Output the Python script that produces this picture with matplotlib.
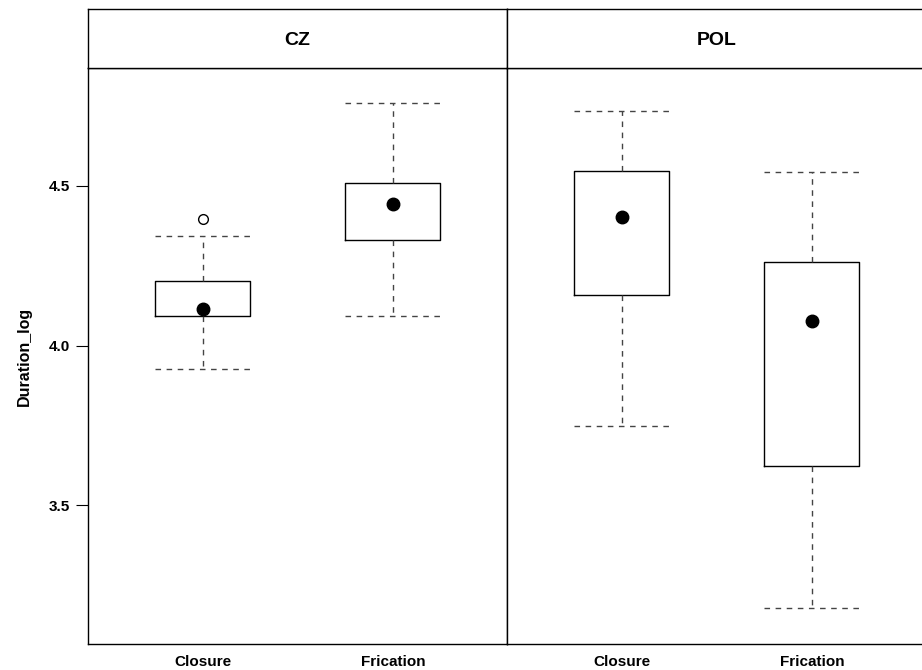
import matplotlib
matplotlib.use("Agg")
import matplotlib.pyplot as plt

plt.rcParams['font.family'] = ['Liberation Sans', 'DejaVu Sans']

panels = ["CZ", "POL"]
categories = ["Closure", "Frication"]
# per panel: [Closure, Frication]
whislo = {"CZ": [3.928, 4.094], "POL": [3.748, 3.178]}
q1 = {"CZ": [4.092, 4.330], "POL": [4.158, 3.623]}
med = {"CZ": [4.115, 4.442], "POL": [4.404, 4.076]}
q3 = {"CZ": [4.203, 4.508], "POL": [4.548, 4.261]}
whishi = {"CZ": [4.344, 4.759], "POL": [4.735, 4.542]}
fliers = {"CZ": [[4.396], []], "POL": [[], []]}
yticks = [3.5, 4.0, 4.5]
ytick_labels = ["3.5", "4.0", "4.5"]

W, H = 922, 670
fig = plt.figure(figsize=(W / 100, H / 100), dpi=100)

left_px, panel_w = 88, 419
top_px, strip_bot, panel_bot = 9, 68, 644

for i, p in enumerate(panels):
    x0 = (left_px + i * panel_w) / W
    ax = fig.add_axes([x0, 1 - panel_bot / H, panel_w / W, (panel_bot - strip_bot) / H])
    sax = fig.add_axes([x0, 1 - strip_bot / H, panel_w / W, (strip_bot - top_px) / H])

    stats = []
    for j, c in enumerate(categories):
        stats.append(dict(whislo=whislo[p][j], q1=q1[p][j], med=med[p][j],
                          q3=q3[p][j], whishi=whishi[p][j], fliers=fliers[p][j], label=c))
    pos = [1, 2]
    ax.bxp(stats, positions=pos, widths=0.5, showfliers=True,
           boxprops=dict(color='black', linewidth=1.0),
           whiskerprops=dict(color='#444444', linewidth=1.0, linestyle=(0, (4, 4))),
           capprops=dict(color='#444444', linewidth=1.0, linestyle=(0, (4, 4))),
           medianprops=dict(linewidth=0),
           flierprops=dict(marker='o', markerfacecolor='white', markeredgecolor='black',
                           markersize=7, markeredgewidth=1.0),
           capwidths=0.5)
    ax.plot(pos, med[p], 'o', color='black', markersize=9, zorder=5)

    ax.set_xlim(0.395, 2.6)
    ax.set_ylim(3.066, 4.869)
    ax.set_xticks(pos)
    ax.set_xticklabels(categories, fontsize=11, fontweight='bold')
    ax.tick_params(axis='x', length=0, pad=8)
    if i == 0:
        ax.set_yticks(yticks)
        ax.set_yticklabels(ytick_labels, fontsize=11, fontweight='bold')
        ax.tick_params(axis='y', length=9, width=0.8, pad=4)
        ax.set_ylabel("Duration_log", fontsize=11.5, fontweight='bold', labelpad=12)
    else:
        ax.set_yticks([])
    for s in ax.spines.values():
        s.set_linewidth(1.0)
        s.set_color('black')

    sax.set_xticks([])
    sax.set_yticks([])
    for s in sax.spines.values():
        s.set_linewidth(1.0)
        s.set_color('black')
    sax.text(0.5, 0.47, p, ha='center', va='center', fontsize=14, fontweight='bold',
             transform=sax.transAxes)

fig.savefig("out.png", dpi=100)
